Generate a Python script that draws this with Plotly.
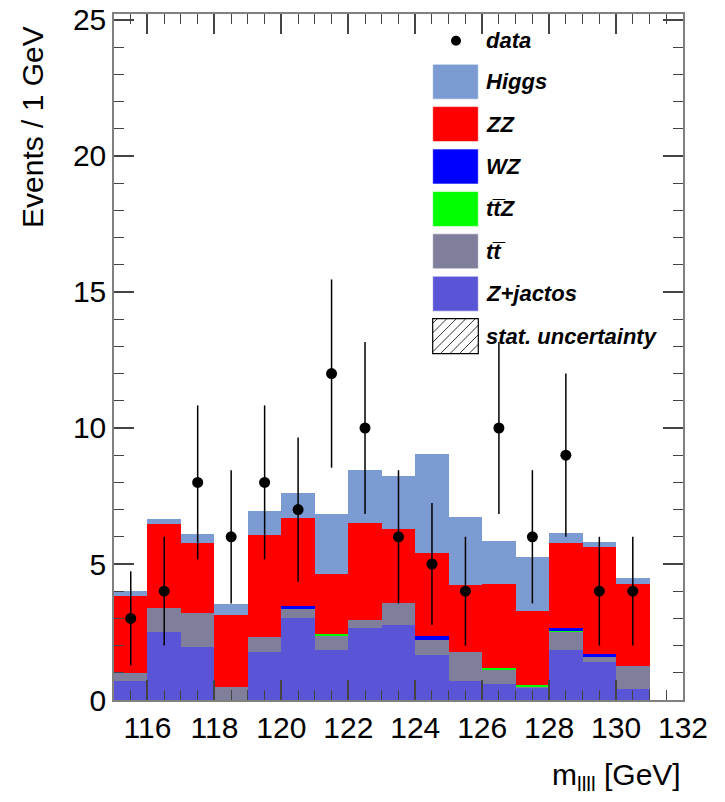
import plotly.graph_objects as go

# ---- data ----
bin_centers = [115.5, 116.5, 117.5, 118.5, 119.5, 120.5, 121.5, 122.5,
               123.5, 124.5, 125.5, 126.5, 127.5, 128.5, 129.5, 130.5]
data_counts = [3, 4, 8, 6, 8, 7, 12, 10, 6, 5, 4, 10, 6, 9, 4, 4]
data_err = [1.73, 2.0, 2.83, 2.45, 2.83, 2.65, 3.46, 3.16,
            2.45, 2.24, 2.0, 3.16, 2.45, 3.0, 2.0, 2.0]

zjets = [0.69, 2.51, 1.96, 0.0, 1.77, 3.00, 1.84, 2.63,
         2.77, 1.66, 0.69, 0.59, 0.47, 1.82, 1.40, 0.41]
ttbar = [0.30, 0.89, 1.25, 0.48, 0.55, 0.36, 0.52, 0.32,
         0.81, 0.53, 1.09, 0.52, 0.02, 0.68, 0.18, 0.84]
ttz = [0.0, 0.0, 0.0, 0.0, 0.0, 0.0, 0.05, 0.0,
       0.0, 0.0, 0.0, 0.05, 0.05, 0.05, 0.0, 0.0]
wz = [0.0, 0.0, 0.0, 0.0, 0.0, 0.10, 0.0, 0.0,
      0.0, 0.17, 0.0, 0.0, 0.0, 0.10, 0.10, 0.0]
zz = [2.82, 3.06, 2.58, 2.66, 3.75, 3.24, 2.21, 3.55,
      2.69, 3.06, 2.43, 3.10, 2.73, 3.12, 3.95, 3.00]
higgs = [0.18, 0.21, 0.30, 0.39, 0.89, 0.91, 2.22, 1.94,
         1.98, 3.61, 2.51, 1.57, 1.98, 0.37, 0.19, 0.25]

series_names = ["Z+jactos", "tt\u0305", "tt\u0305Z", "WZ", "ZZ", "Higgs"]
series_values = [zjets, ttbar, ttz, wz, zz, higgs]
series_colors = ["#5a55d6", "#807f9b", "#00ff00", "#0000ff", "#ff0000", "#7b9bd2"]

x_tick_labels = ["116", "118", "120", "122", "124", "126", "128", "130", "132"]
y_tick_labels = ["0", "5", "10", "15", "20", "25"]

FONT = "Liberation Sans, Arial, Helvetica, sans-serif"

fig = go.Figure()
for name, vals, col in zip(series_names, series_values, series_colors):
    fig.add_trace(go.Bar(x=bin_centers, y=vals, width=1.0, name=name,
                         marker=dict(color=col, line=dict(width=0)),
                         showlegend=False))

fig.add_trace(go.Scatter(x=bin_centers, y=data_counts, mode="markers", name="data",
                         marker=dict(color="black", size=11),
                         error_y=dict(type="data", array=data_err, visible=True,
                                      thickness=1.5, width=0, color="black"),
                         showlegend=False))

# figure geometry (body margin removed, figure fills the window)
W, H = 725, 802
L, R, T, B = 114, 42, 14, 102
PW, PH = W - L - R, H - T - B


def px(x):
    """screen pixel x -> paper x"""
    return (x - L) / PW


def py(y):
    """screen pixel y -> paper y"""
    return (H - B - y) / PH


shapes = []
annotations = []

# legend: data entry
cx, cy, r = 456, 40.7, 5
shapes.append(dict(type="circle", xref="paper", yref="paper",
                   x0=px(cx - r), x1=px(cx + r), y0=py(cy + r), y1=py(cy - r),
                   fillcolor="black", line=dict(width=0)))
annotations.append(dict(xref="paper", yref="paper", x=px(484), y=py(cy),
                        xanchor="left", yanchor="middle", showarrow=False,
                        text="<b><i>data</i></b>",
                        font=dict(family=FONT, size=22, color="black")))

leg_names = ["Higgs", "ZZ", "WZ", "tt\u0305Z", "tt\u0305", "Z+jactos"]
leg_colors = ["#7b9bd2", "#ff0000", "#0000ff", "#00ff00", "#807f9b", "#5a55d6"]
sx0, sx1 = 432.7, 478.3
sh = 35
step = 42.4
y_first = 81.7
for i, (nm, col) in enumerate(zip(leg_names, leg_colors)):
    c = y_first + step * i
    shapes.append(dict(type="rect", xref="paper", yref="paper",
                       x0=px(sx0), x1=px(sx1), y0=py(c + sh / 2), y1=py(c - sh / 2),
                       fillcolor=col, line=dict(width=1, color="rgba(255,255,255,0.6)")))
    annotations.append(dict(xref="paper", yref="paper", x=px(484), y=py(c),
                            xanchor="left", yanchor="middle", showarrow=False,
                            text="<b><i>" + nm + "</i></b>",
                            font=dict(family=FONT, size=22, color="black")))

# hatched stat. uncertainty swatch
c = y_first + step * 6
bx0, bx1, by_top, by_bot = sx0, sx1, c - sh / 2, c + sh / 2
shapes.append(dict(type="rect", xref="paper", yref="paper",
                   x0=px(bx0), x1=px(bx1), y0=py(by_bot), y1=py(by_top),
                   fillcolor="white", line=dict(width=1.2, color="black")))
bw, bh = bx1 - bx0, by_bot - by_top
hstep = 9.5
k = -bh + hstep / 2
while k < bw:
    u1, u2 = max(0, k), min(bw, bh + k)
    if u2 > u1:
        shapes.append(dict(type="line", xref="paper", yref="paper",
                           x0=px(bx0 + u1), y0=py(by_bot - (u1 - k)),
                           x1=px(bx0 + u2), y1=py(by_bot - (u2 - k)),
                           line=dict(width=0.8, color="black")))
    k += hstep
annotations.append(dict(xref="paper", yref="paper", x=px(484), y=py(c),
                        xanchor="left", yanchor="middle", showarrow=False,
                        text="<b><i>stat. uncertainty</i></b>",
                        font=dict(family=FONT, size=22, color="black")))

# axis titles
annotations.append(dict(xref="paper", yref="paper", x=px(32), y=py(24),
                        xanchor="center", yanchor="top", showarrow=False,
                        textangle=-90, text="Events / 1 GeV",
                        font=dict(family=FONT, size=30, color="black")))
annotations.append(dict(xref="paper", yref="paper", x=1.0, y=py(776),
                        xanchor="right", yanchor="middle", showarrow=False,
                        text="m<sub>llll</sub> [GeV]",
                        font=dict(family=FONT, size=30, color="black")))

fig.update_layout(
    width=W, height=H,
    margin=dict(l=L, r=R, t=T, b=B, autoexpand=False),
    barmode="stack", bargap=0,
    plot_bgcolor="white", paper_bgcolor="white",
    font=dict(family=FONT, size=30, color="black"),
    shapes=shapes, annotations=annotations,
    xaxis=dict(range=[115, 132], tickmode="array", automargin=False,
               ticklabeloverflow="allow",
               tickvals=[int(t) for t in x_tick_labels], ticktext=x_tick_labels,
               ticks="inside", ticklen=20, tickwidth=1.5, tickcolor="#444",
               minor=dict(dtick=0.5, tick0=115, ticks="inside", ticklen=10,
                          tickwidth=1.2, tickcolor="#444"),
               showline=True, linecolor="#808080", linewidth=1.5, mirror="ticks",
               showgrid=False, zeroline=False,
               tickfont=dict(family=FONT, size=30, color="black")),
    yaxis=dict(range=[0, 25.22], tickmode="array", automargin=False,
               ticklabeloverflow="allow",
               tickvals=[int(t) for t in y_tick_labels], ticktext=y_tick_labels,
               ticks="inside", ticklen=20, tickwidth=1.5, tickcolor="#444",
               minor=dict(dtick=1, tick0=0, ticks="inside", ticklen=10,
                          tickwidth=1.2, tickcolor="#444"),
               showline=True, linecolor="#808080", linewidth=1.5, mirror="ticks",
               showgrid=False, zeroline=False,
               tickfont=dict(family=FONT, size=30, color="black")),
)

fig.write_html("out.html",
               config={"displayModeBar": False},
               post_script="document.body.style.margin='0';"
                           "document.body.style.overflow='hidden';")
